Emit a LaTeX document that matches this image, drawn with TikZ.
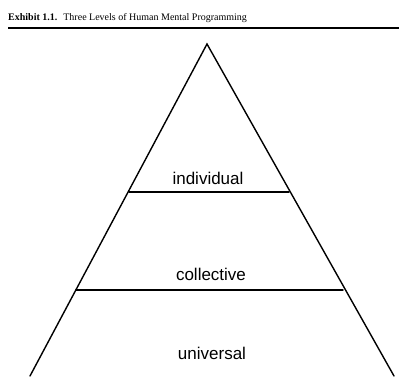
\documentclass[tikz,border=0pt]{standalone}
\usepackage{fontspec}
\setmainfont{Liberation Serif}
\newfontfamily\labelfont{Liberation Sans}
\begin{document}
\begin{tikzpicture}[x=1pt,y=-1pt,
  edge/.style={line width=1.4pt, line cap=round},
  level/.style={font=\labelfont\fontsize{17}{20}\selectfont, inner sep=0pt},
  title/.style={font=\fontsize{10}{12}\selectfont, inner sep=0pt, anchor=base west}]
\useasboundingbox (0,0) rectangle (399,376);
\node[title] (t) at (8,20) {\textbf{Exhibit 1.1.}\hspace{0.6em}Three Levels of Human Mental Programming};
\coordinate (rl) at (8,28);
\coordinate (rr) at (399,28);
\draw[line width=1.3pt] (rl) -- (rr);
\coordinate (apex) at (207,44);
\coordinate (bl) at (30,376);
\coordinate (br) at (394,376);
\coordinate (il) at (129,192);
\coordinate (ir) at (289,192);
\coordinate (cl) at (76,290);
\coordinate (cr) at (343,290);
\draw[edge] (bl) -- (apex) -- (br);
\draw[edge] (il) -- (ir);
\draw[edge] (cl) -- (cr);
\node[level] (ind) at (208,178) {individual};
\node[level] (col) at (211,274) {collective};
\node[level] (uni) at (212,353) {universal};
\end{tikzpicture}
\end{document}
